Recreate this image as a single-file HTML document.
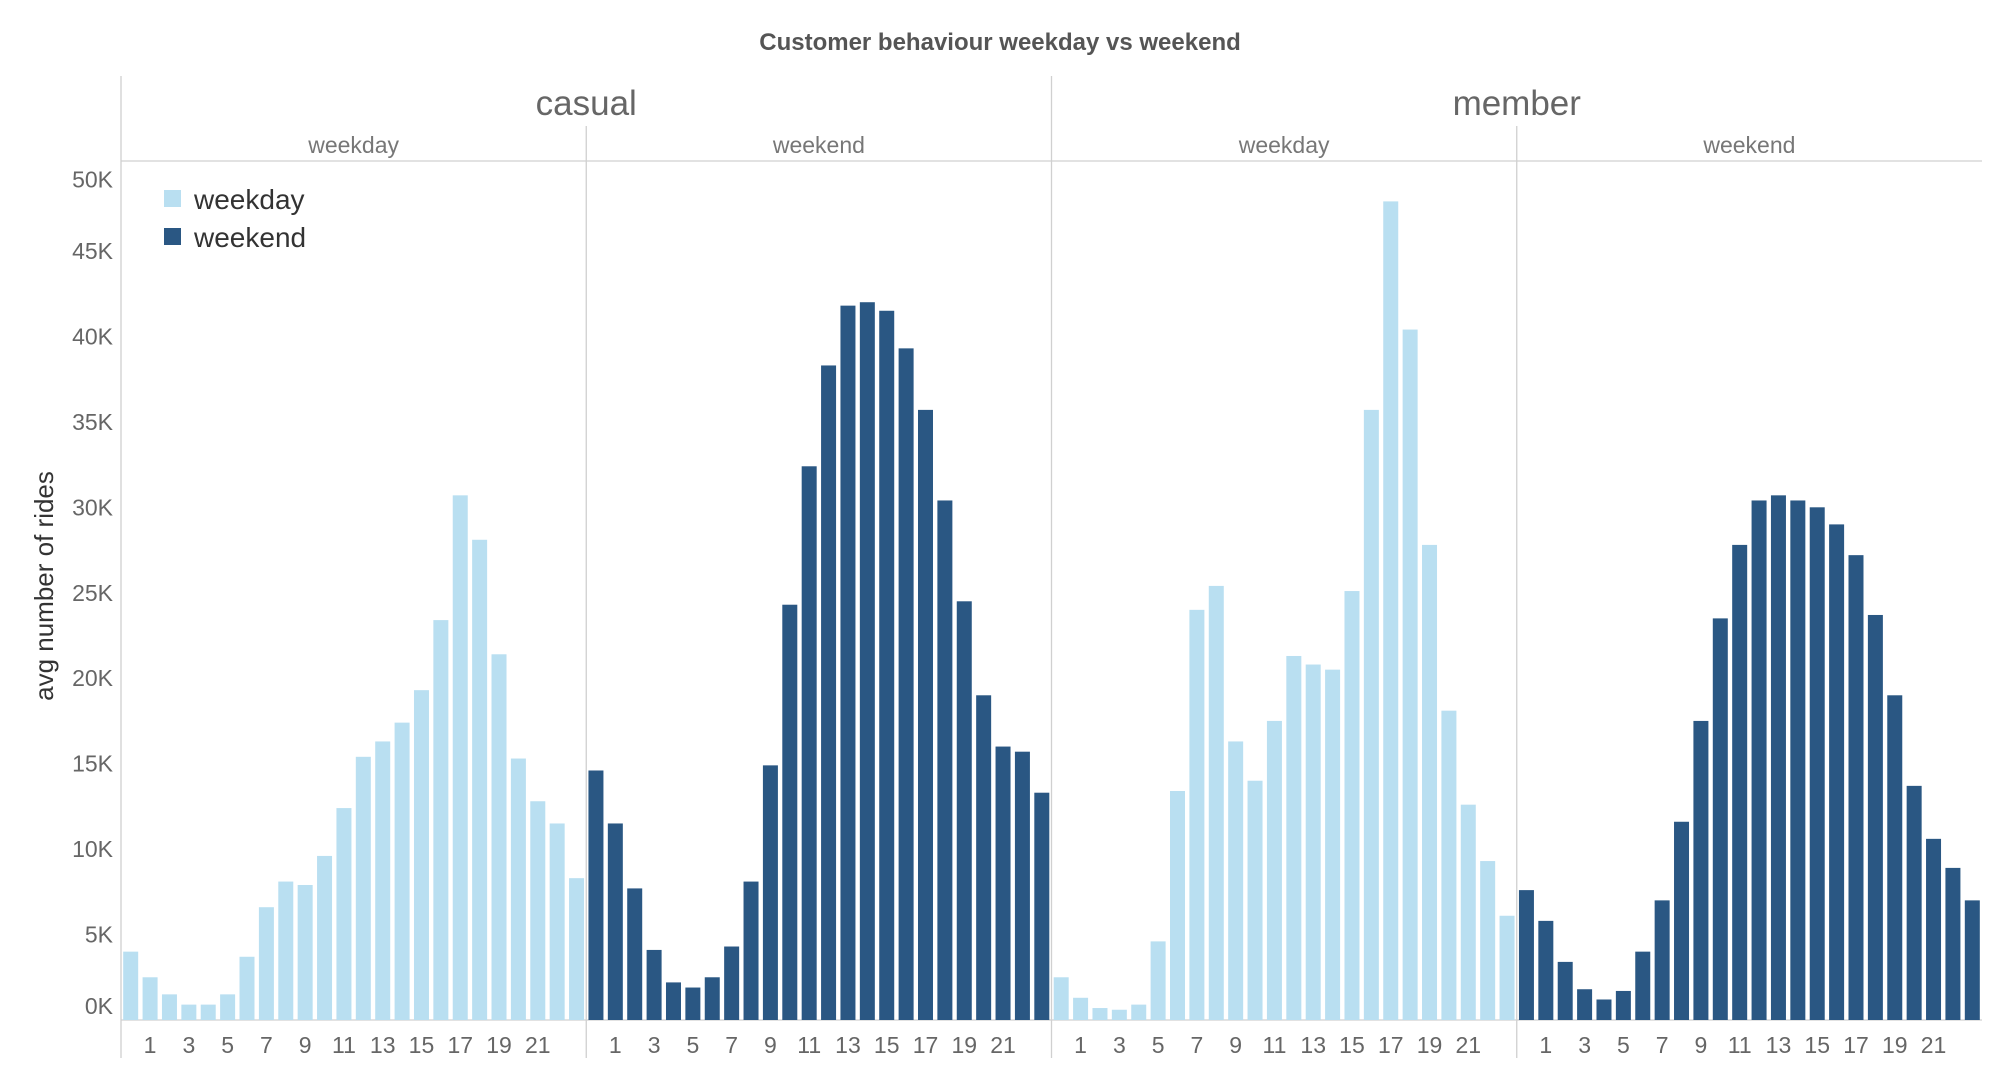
<!DOCTYPE html>
<html><head><meta charset="utf-8"><style>
html,body{margin:0;padding:0;background:#fff;}
svg{display:block;font-family:"Liberation Sans","DejaVu Sans",sans-serif;}
</style></head><body>
<svg id="chart" width="1999" height="1075" viewBox="0 0 1999 1075">
<text x="1000" y="50" text-anchor="middle" font-size="24" font-weight="600" fill="#555">Customer behaviour weekday vs weekend</text>
<text transform="translate(53,586) rotate(-90)" text-anchor="middle" font-size="26" fill="#333">avg number of rides</text>
<g id="g"></g>
<g>
<rect x="164" y="190" width="17" height="17" fill="#b9dff1"></rect>
<text x="194" y="209" font-size="28" fill="#333">weekday</text>
<rect x="164" y="228" width="17" height="17" fill="#2a5783"></rect>
<text x="194" y="247" font-size="28" fill="#333">weekend</text>
</g>
</svg>
<script>
const hours = [0,1,2,3,4,5,6,7,8,9,10,11,12,13,14,15,16,17,18,19,20,21,22,23];
const casualWeekday = [4.0,2.5,1.5,0.9,0.9,1.5,3.7,6.6,8.1,7.9,9.6,12.4,15.4,16.3,17.4,19.3,23.4,30.7,28.1,21.4,15.3,12.8,11.5,8.3];
const casualWeekend = [14.6,11.5,7.7,4.1,2.2,1.9,2.5,4.3,8.1,14.9,24.3,32.4,38.3,41.8,42.0,41.5,39.3,35.7,30.4,24.5,19.0,16.0,15.7,13.3];
const memberWeekday = [2.5,1.3,0.7,0.6,0.9,4.6,13.4,24.0,25.4,16.3,14.0,17.5,21.3,20.8,20.5,25.1,35.7,47.9,40.4,27.8,18.1,12.6,9.3,6.1];
const memberWeekend = [7.6,5.8,3.4,1.8,1.2,1.7,4.0,7.0,11.6,17.5,23.5,27.8,30.4,30.7,30.4,30.0,29.0,27.2,23.7,19.0,13.7,10.6,8.9,7.0];
const yTicks = [0,5,10,15,20,25,30,35,40,45,50];
const yTickLabels = ["0K","5K","10K","15K","20K","25K","30K","35K","40K","45K","50K"];
const xTickLabels = [1,3,5,7,9,11,13,15,17,19,21];
const groups = ["casual","member"];
const subs = ["weekday","weekend"];

const NS="http://www.w3.org/2000/svg";
const g=document.getElementById('g');
const L=121,R=1982,PW=465.25,BASE=1020,K=17.09;
const y=v=>BASE-v*K;
const px=p=>L+p*PW;
const x=(p,h)=>px(p)+(h+0.5)*PW/24;
function mk(t,a,txt){const e=document.createElementNS(NS,t);for(const k in a)e.setAttribute(k,a[k]);if(txt!==undefined)e.textContent=txt;g.appendChild(e);return e;}

let e;
e=mk('line',{x1:L,y1:76,x2:L,y2:1058,stroke:'#d0d0d0','stroke-width':1.3});

e=mk('line',{x1:L,y1:161,x2:R,y2:161,stroke:'#d0d0d0','stroke-width':1.3});

e=mk('line',{x1:L,y1:BASE,x2:R,y2:BASE,stroke:'#d0d0d0','stroke-width':1.3});

for(let p=1;p<4;p++){
  const top = p===2?76:126;
  e=mk('line',{x1:px(p),y1:top,x2:px(p),y2:1058,stroke:'#d0d0d0','stroke-width':1.3});
  
}

groups.forEach((gname,i)=>{
  e=mk('text',{x:px(2*i+1),y:115,'text-anchor':'middle','font-size':35,fill:'#666'},gname);
  
  subs.forEach((s,j)=>{
    e=mk('text',{x:px(2*i+j)+PW/2,y:153,'text-anchor':'middle','font-size':23,fill:'#777'},s);
    
  });
});

yTicks.forEach((v,i)=>{
  let ly=y(v)+8; if(v===0) ly=y(0)-6; if(v===50) ly=y(v)+22;
  e=mk('text',{x:113,y:ly,'text-anchor':'end','font-size':23,fill:'#666'},yTickLabels[i]);
  
});

const series=[casualWeekday,casualWeekend,memberWeekday,memberWeekend];
const colors=['#b9dff1','#2a5783','#b9dff1','#2a5783'];
series.forEach((arr,p)=>{
  arr.forEach((v,h)=>{
    e=mk('rect',{x:x(p,hours[h])-7.5,y:y(v),width:15,height:BASE-y(v),fill:colors[p]});
    
    
  });
  xTickLabels.forEach(t=>{
    e=mk('text',{x:x(p,t),y:1053,'text-anchor':'middle','font-size':23,fill:'#666'},String(t));
    
  });
});
</script>
</body></html>
